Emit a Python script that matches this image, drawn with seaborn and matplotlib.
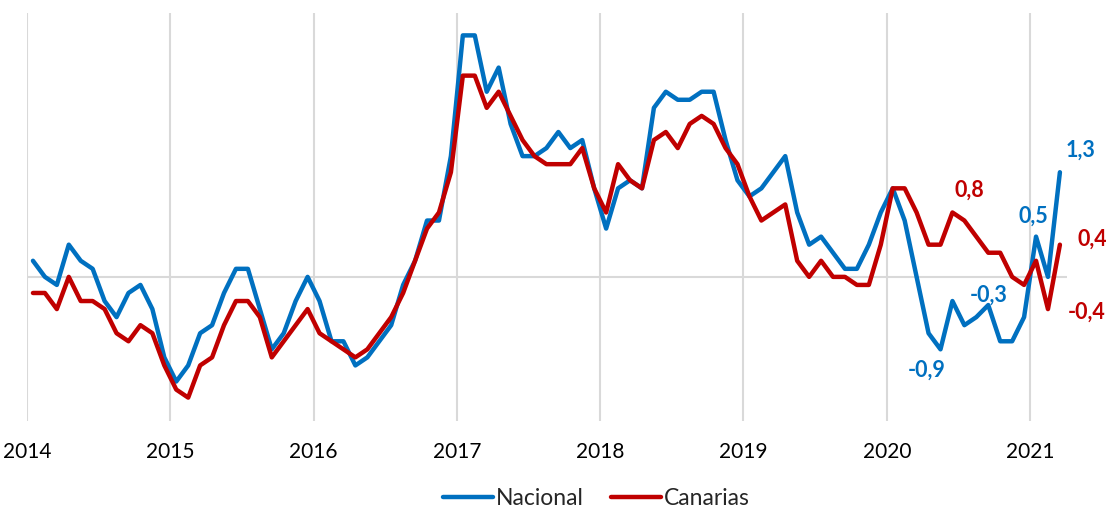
import pandas as pd
import matplotlib.pyplot as plt
import seaborn as sns

# monthly series, Jan 2014 .. Mar 2021
years = ['2014', '2015', '2016', '2017', '2018', '2019', '2020', '2021']

nacional = [
    0.2, 0.0, -0.1, 0.4, 0.2, 0.1, -0.3, -0.5, -0.2, -0.1, -0.4, -1.0,      # 2014
    -1.3, -1.1, -0.7, -0.6, -0.2, 0.1, 0.1, -0.4, -0.9, -0.7, -0.3, 0.0,    # 2015
    -0.3, -0.8, -0.8, -1.1, -1.0, -0.8, -0.6, -0.1, 0.2, 0.7, 0.7, 1.5,     # 2016
    3.0, 3.0, 2.3, 2.6, 1.9, 1.5, 1.5, 1.6, 1.8, 1.6, 1.7, 1.1,             # 2017
    0.6, 1.1, 1.2, 1.1, 2.1, 2.3, 2.2, 2.2, 2.3, 2.3, 1.7, 1.2,             # 2018
    1.0, 1.1, 1.3, 1.5, 0.8, 0.4, 0.5, 0.3, 0.1, 0.1, 0.4, 0.8,             # 2019
    1.1, 0.7, 0.0, -0.7, -0.9, -0.3, -0.6, -0.5, -0.35, -0.8, -0.8, -0.5,   # 2020
    0.5, 0.0, 1.3,                                                          # 2021
]

canarias = [
    -0.2, -0.2, -0.4, 0.0, -0.3, -0.3, -0.4, -0.7, -0.8, -0.6, -0.7, -1.1,  # 2014
    -1.4, -1.5, -1.1, -1.0, -0.6, -0.3, -0.3, -0.5, -1.0, -0.8, -0.6, -0.4, # 2015
    -0.7, -0.8, -0.9, -1.0, -0.9, -0.7, -0.5, -0.2, 0.2, 0.6, 0.8, 1.3,     # 2016
    2.5, 2.5, 2.1, 2.3, 2.0, 1.7, 1.5, 1.4, 1.4, 1.4, 1.6, 1.1,             # 2017
    0.8, 1.4, 1.2, 1.1, 1.7, 1.8, 1.6, 1.9, 2.0, 1.9, 1.6, 1.4,             # 2018
    1.0, 0.7, 0.8, 0.9, 0.2, 0.0, 0.2, 0.0, 0.0, -0.1, -0.1, 0.4,           # 2019
    1.1, 1.1, 0.8, 0.4, 0.4, 0.8, 0.7, 0.5, 0.3, 0.3, 0.0, -0.1,            # 2020
    0.2, -0.4, 0.4,                                                         # 2021
]

series_names = ['Nacional', 'Canarias']
colors = {'Nacional': '#0070C0', 'Canarias': '#C00000'}

# data labels: (series, month index, text, offset in points)
labels = [
    ('Nacional', 86, '1,3', (15, 16)),
    ('Nacional', 84, '0,5', (-2, 15)),
    ('Nacional', 76, '-0,9', (-10, -15)),
    ('Nacional', 80, '-0,3', (0, 7)),
    ('Canarias', 77, '0,8', (12, 16)),
    ('Canarias', 86, '0,4', (23, 4)),
    ('Canarias', 85, '-0,4', (28, -2)),
]

df = pd.DataFrame({
    'mes': list(range(len(nacional))) * 2,
    'valor': nacional + canarias,
    'serie': ['Nacional'] * len(nacional) + ['Canarias'] * len(canarias),
})

sns.set_theme(style="white")
plt.rcParams['font.family'] = ['Lato', 'DejaVu Sans']

fig = plt.figure(figsize=(11.06, 5.14), dpi=100)
ax = fig.add_axes([0.0244, 0.181, 0.9404, 0.794])

# grid lines first so the series sit on top
for k in range(len(years)):
    ax.axvline(12 * k - 0.5, color='#d9d9d9', lw=1.5, zorder=0)
ax.axhline(0, color='#d9d9d9', lw=1.5, zorder=0)

sns.lineplot(data=df, x='mes', y='valor', hue='serie', hue_order=series_names,
             palette=colors, linewidth=3.2, ax=ax, legend=False)

for serie, i, txt, off in labels:
    vals = nacional if serie == 'Nacional' else canarias
    ax.annotate(txt, xy=(i, vals[i]), xytext=off, textcoords='offset points',
                ha='center', va='center', fontsize=15.5, fontweight='bold',
                color=colors[serie])

ax.set_xlim(-0.5, 86.6)
ax.set_ylim(-1.79, 3.28)
ax.set_xticks([12 * k - 0.5 for k in range(len(years))])
ax.set_xticklabels(years, fontsize=15, color='#000000')
ax.tick_params(axis='x', length=0, pad=15)
ax.set_yticks([])
ax.set_xlabel('')
ax.set_ylabel('')
for s in ax.spines.values():
    s.set_visible(False)

handles = [plt.Line2D([], [], color=colors[n], lw=3.2) for n in series_names]
fig.legend(handles, series_names, loc='lower center', bbox_to_anchor=(0.539, -0.012),
           ncol=2, frameon=False, fontsize=16.5, handlelength=2.2, borderpad=0,
           handletextpad=0.1, columnspacing=1.2)

plt.savefig('out.png', dpi=100)
